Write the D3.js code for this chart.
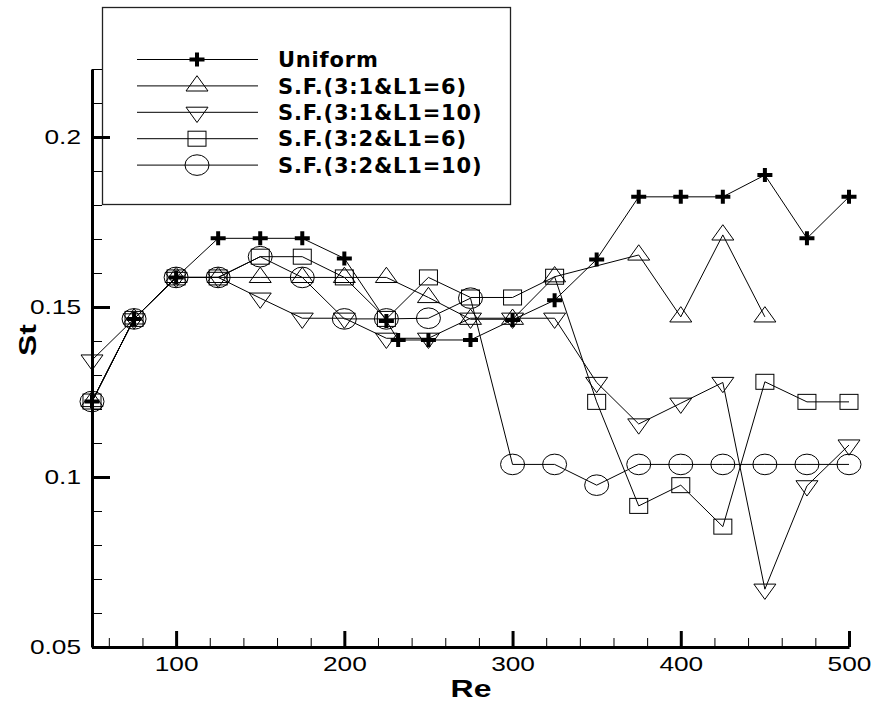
<!DOCTYPE html>
<html>
<head>
<meta charset="utf-8">
<script src="https://cdn.jsdelivr.net/npm/d3@7"></script>
<style>
body { margin: 0; background: #fff; }
svg { display: block; }
text { font-family: "Liberation Sans", Arial, sans-serif; fill: #000; }
</style>
</head>
<body>
<script>
'use strict';

// data
var reUniform = [50, 75, 100, 125, 150, 175, 200, 225, 232, 250, 275, 300, 325, 350, 375, 400, 425, 450, 475, 500];
var stUniform = [0.1222, 0.1465, 0.1587, 0.1702, 0.1702, 0.1702, 0.1643, 0.1459, 0.1403, 0.1403, 0.1403, 0.1462, 0.152, 0.164, 0.1824, 0.1824, 0.1824, 0.1888, 0.1702, 0.1824];

var reSF31L6 = [50, 75, 100, 125, 150, 175, 200, 225, 250, 275, 300, 325, 375, 400, 425, 450];
var stSF31L6 = [0.1222, 0.1465, 0.1587, 0.1587, 0.1587, 0.1587, 0.1587, 0.1587, 0.1528, 0.1464, 0.1464, 0.1589, 0.1653, 0.1471, 0.1712, 0.1471];

var reFull = [50, 75, 100, 125, 150, 175, 200, 225, 250, 275, 300, 325, 350, 375, 400, 425, 450, 475, 500];
var stSF31L10 = [0.1344, 0.1465, 0.1587, 0.1587, 0.1526, 0.1467, 0.1467, 0.1408, 0.1408, 0.1467, 0.1467, 0.1467, 0.1278, 0.1156, 0.1217, 0.1278, 0.067, 0.0974, 0.1094];
var stSF32L6  = [0.1222, 0.1465, 0.1587, 0.1587, 0.1648, 0.1648, 0.1587, 0.1465, 0.1587, 0.1528, 0.1528, 0.1589, 0.1221, 0.0915, 0.0976, 0.0854, 0.128, 0.1221, 0.1221];
var stSF32L10 = [0.1222, 0.1465, 0.1587, 0.1587, 0.1648, 0.1587, 0.1465, 0.1465, 0.1467, 0.1526, 0.1037, 0.1037, 0.0976, 0.1037, 0.1037, 0.1037, 0.1037, 0.1037, 0.1037];

var seriesNames = ["Uniform", "S.F.(3:1&L1=6)", "S.F.(3:1&L1=10)", "S.F.(3:2&L1=6)", "S.F.(3:2&L1=10)"];
var seriesMarks = ["plus", "triUp", "triDown", "square", "circle"];

var xTicks = [100, 200, 300, 400, 500];
var yTicks = [0.05, 0.1, 0.15, 0.2];

var series = [
    {re: reUniform, st: stUniform},
    {re: reSF31L6, st: stSF31L6},
    {re: reFull, st: stSF31L10},
    {re: reFull, st: stSF32L6},
    {re: reFull, st: stSF32L10}
].map(function(s, i) {
    return {
        name: seriesNames[i],
        mark: seriesMarks[i],
        points: s.re.map(function(r, j) { return [r, s.st[j]]; })
    };
});

var W = 874, H = 704;
var svg = d3.select("body").append("svg").attr("width", W).attr("height", H);

var x = d3.scaleLinear().domain([50, 500]).range([92, 849]);
var y = d3.scaleLinear().domain([0.05, 0.22]).range([647, 69]);

// marker shapes, centred on the data point
function drawMark(g, type) {
    if (type === "plus") {
        g.append("path").attr("d", "M-7.5,0H7.5M0,-7V7")
            .attr("stroke", "#000").attr("stroke-width", 4).attr("fill", "none");
    } else if (type === "triUp") {
        g.append("path").attr("d", "M0,-10.2L11,5.1L-11,5.1Z")
            .attr("stroke", "#000").attr("stroke-width", 1).attr("fill", "none");
    } else if (type === "triDown") {
        g.append("path").attr("d", "M0,10.2L11,-5.1L-11,-5.1Z")
            .attr("stroke", "#000").attr("stroke-width", 1).attr("fill", "none");
    } else if (type === "square") {
        g.append("rect").attr("x", -9).attr("y", -7.5).attr("width", 18).attr("height", 15)
            .attr("stroke", "#000").attr("stroke-width", 1).attr("fill", "none");
    } else {
        g.append("ellipse").attr("rx", 12).attr("ry", 10.3)
            .attr("stroke", "#000").attr("stroke-width", 1).attr("fill", "none");
    }
}

// legend box
var legend = svg.append("g");
legend.append("rect")
    .attr("x", 102.5).attr("y", 7.5).attr("width", 408).attr("height", 197)
    .attr("fill", "none").attr("stroke", "#222").attr("stroke-width", 1.3);

series.forEach(function(s, i) {
    var ly = 59.5 + i * 26.4;
    legend.append("line")
        .attr("x1", 137).attr("x2", 258).attr("y1", ly).attr("y2", ly)
        .attr("stroke", "#000").attr("stroke-width", 1);
    drawMark(legend.append("g").attr("transform", "translate(197," + ly + ")"), s.mark);
    legend.append("text")
        .attr("x", 278).attr("y", ly + 7.6)
        .style("font-family", "'DejaVu Sans', sans-serif")
        .style("font-weight", "bold")
        .style("font-size", "21px")
        .style("letter-spacing", "0.8px")
        .text(s.name);
});

// lines and markers
var line = d3.line()
    .x(function(d) { return x(d[0]); })
    .y(function(d) { return y(d[1]); });

var plot = svg.append("g");
series.forEach(function(s) {
    plot.append("path")
        .attr("d", line(s.points))
        .attr("fill", "none")
        .attr("stroke", "#000")
        .attr("stroke-width", 1);
    s.points.forEach(function(p) {
        drawMark(plot.append("g").attr("transform", "translate(" + x(p[0]) + "," + y(p[1]) + ")"), s.mark);
    });
});

// axes: ticks point inward, minor ticks in between
var xMinor = d3.range(60, 501, 20).filter(function(v) { return xTicks.indexOf(v) < 0; });
var yMinor = d3.range(6, 23).map(function(v) { return v / 100; })
    .filter(function(v) { return Math.round(v * 100) % 5 !== 0; });

svg.append("g")
    .attr("transform", "translate(0,647)")
    .call(d3.axisBottom(x).tickValues(xMinor).tickFormat("").tickSize(-9).tickSizeOuter(0))
    .call(function(g) { g.select(".domain").remove(); })
    .selectAll("line").attr("stroke-width", 1);

svg.append("g")
    .attr("transform", "translate(92,0)")
    .call(d3.axisLeft(y).tickValues(yMinor).tickFormat("").tickSize(-10).tickSizeOuter(0))
    .call(function(g) { g.select(".domain").remove(); })
    .selectAll("line").attr("stroke-width", 1);

var xAxis = svg.append("g")
    .attr("transform", "translate(0,647)")
    .call(d3.axisBottom(x).tickValues(xTicks).tickFormat(String)
        .tickSize(-16).tickSizeOuter(0).tickPadding(8.8));
xAxis.select(".domain").attr("stroke-width", 3);
xAxis.selectAll("line").attr("stroke-width", 3);
xAxis.selectAll("text")
    .attr("font-size", null).attr("font-family", null)
    .style("font-size", "21px")
    .attr("transform", "scale(1.25,1)");

var yAxis = svg.append("g")
    .attr("transform", "translate(92,0)")
    .call(d3.axisLeft(y).tickValues(yTicks).tickFormat(String)
        .tickSize(-18).tickSizeOuter(0).tickPadding(8.8));
yAxis.select(".domain").attr("stroke-width", 3);
yAxis.selectAll("line").attr("stroke-width", 3);
yAxis.selectAll("text")
    .attr("font-size", null).attr("font-family", null)
    .style("font-size", "21px")
    .attr("transform", "scale(1.25,1)");

// axis titles
svg.append("g").attr("transform", "translate(471,696.5) scale(1.33,1)")
    .append("text")
    .attr("text-anchor", "middle")
    .style("font-weight", "bold").style("font-size", "24px")
    .text("Re");

svg.append("g").attr("transform", "translate(36,340) rotate(-90) scale(1.33,1)")
    .append("text")
    .attr("text-anchor", "middle")
    .style("font-weight", "bold").style("font-size", "24px")
    .text("St");
</script>
</body>
</html>
